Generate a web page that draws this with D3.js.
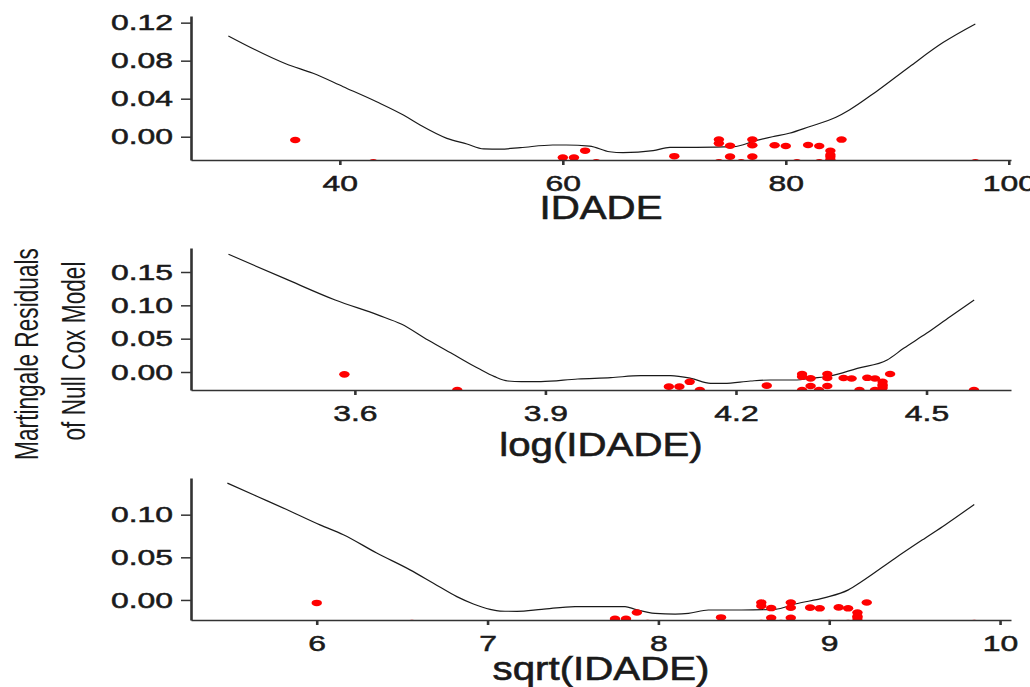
<!DOCTYPE html>
<html>
<head>
<meta charset="utf-8">
<script src="https://cdn.jsdelivr.net/npm/d3@7"></script>
<style>
  body { margin: 0; background: #fff; }
  svg { display: block; font-family: "Liberation Sans", Arial, sans-serif; }
</style>
</head>
<body>
<div id="chart"></div>
<script>
// observed ages (IDADE) and martingale residuals of the null Cox model
var ages = [36, 43, 60, 61, 62, 63, 70, 74, 74, 74, 75, 75, 76, 77, 77, 77,
            79, 80, 81, 82, 83, 83, 84, 84, 84, 84, 85, 97];
var residuals = [-0.0035, -0.027, -0.022, -0.022, -0.0147, -0.027, -0.0205, -0.003, -0.007, -0.027,
                 -0.0095, -0.021, -0.027, -0.003, -0.009, -0.021,
                 -0.009, -0.0098, -0.027, -0.0087, -0.0098, -0.027,
                 -0.0148, -0.019, -0.021, -0.024, -0.003, -0.027];

// smoothed curves
var curveAgeX = [30, 35.2, 37.6, 40.3, 43.3, 45.7, 47.2, 49.6, 51.4, 52.9, 54.4, 56.2, 59.1, 60.3, 62.4,
                 64.2, 65.4, 68.1, 69.6, 72.0, 75.3, 77.3, 78.8, 80.3, 82.1, 84.5, 85.7, 88.1, 91.1, 94.1, 97];
var curveAgeY = [0.106, 0.0765, 0.0667, 0.0526, 0.0368, 0.0228, 0.0123, -0.0017, -0.0077, -0.0128, -0.013,
                 -0.0115, -0.0087, -0.0087, -0.0098, -0.0158, -0.0168, -0.0147, -0.0112, -0.0112, -0.0105,
                 -0.0042, 0.0, 0.0036, 0.0105, 0.0204, 0.0281, 0.0474, 0.0737, 0.099, 0.1186];

var curveLogX = [3.401, 3.490, 3.569, 3.637, 3.673, 3.715, 3.757, 3.794, 3.820, 3.841, 3.862, 3.893, 3.951,
                 4.003, 4.050, 4.097, 4.129, 4.160, 4.181, 4.223, 4.254, 4.296, 4.317, 4.349, 4.391, 4.438,
                 4.464, 4.5, 4.537, 4.575];
var curveLogY = [0.1766, 0.140, 0.108, 0.0853, 0.0719, 0.0479, 0.0254, 0.0055, -0.007, -0.0135, -0.0145,
                 -0.0145, -0.0105, -0.0085, -0.0055, -0.0055, -0.0095, -0.017, -0.017, -0.0135, -0.012,
                 -0.012, -0.0095, -0.006, 0.0055, 0.018, 0.0355, 0.058, 0.083, 0.108];

var curveSqrtX = [5.477, 5.649, 5.824, 6.019, 6.156, 6.351, 6.546, 6.683, 6.820, 6.917, 7.015, 7.073, 7.171,
                  7.317, 7.512, 7.805, 7.864, 7.981, 8.098, 8.176, 8.293, 8.488, 8.683, 8.800, 8.976, 9.112,
                  9.190, 9.386, 9.561, 9.678, 9.849];
var curveSqrtY = [0.137, 0.1216, 0.106, 0.088, 0.0765, 0.055, 0.0353, 0.0196, 0.0039, -0.0047, -0.011, -0.013,
                  -0.0133, -0.011, -0.0078, -0.0078, -0.011, -0.0157, -0.0165, -0.0157, -0.0118, -0.0118,
                  -0.011, -0.0047, 0.0027, 0.0118, 0.0216, 0.049, 0.0725, 0.088, 0.112];

// tick labels
var ageTicks = [40, 60, 80, 100];
var logTicks = [3.6, 3.9, 4.2, 4.5];
var sqrtTicks = [6, 7, 8, 9, 10];
var ageYTicks = [0, 0.04, 0.08, 0.12];
var logYTicks = [0, 0.05, 0.10, 0.15];
var sqrtYTicks = [0, 0.05, 0.10];

var width = 1030, height = 687;
var left = 191, right = 1011;
var sx = 1.45;   // the picture is stretched sideways

var panels = [
    { name: "age", title: "IDADE", f: function(a) { return a; },
      cx: curveAgeX, cy: curveAgeY, xTicks: ageTicks, yTicks: ageYTicks,
      xDomain: [26.65, 100.2], yDomain: [-0.0245, 0.127], top: 16, bottom: 160,
      xFmt: d3.format("d"), yFmt: d3.format(".2f"), titleY: 219 },
    { name: "log", title: "log(IDADE)", f: Math.log,
      cx: curveLogX, cy: curveLogY, xTicks: logTicks, yTicks: logYTicks,
      xDomain: [3.342, 4.633], yDomain: [-0.027, 0.186], top: 248, bottom: 390,
      xFmt: d3.format(".1f"), yFmt: d3.format(".2f"), titleY: 456 },
    { name: "sqrt", title: "sqrt(IDADE)", f: Math.sqrt,
      cx: curveSqrtX, cy: curveSqrtY, xTicks: sqrtTicks, yTicks: sqrtYTicks,
      xDomain: [5.264, 10.064], yDomain: [-0.0235, 0.143], top: 478, bottom: 620,
      xFmt: d3.format("d"), yFmt: d3.format(".2f"), titleY: 680 }
];

var svg = d3.select("#chart").append("svg")
    .attr("width", width)
    .attr("height", height);

svg.append("rect").attr("width", width).attr("height", height).attr("fill", "#fff");

var defs = svg.append("defs");

panels.forEach(function(p) {
    var x = d3.scaleLinear().domain(p.xDomain).range([left, right]);
    var y = d3.scaleLinear().domain(p.yDomain).range([p.bottom, p.top]);

    defs.append("clipPath").attr("id", "clip-" + p.name)
        .append("rect")
        .attr("x", left).attr("y", p.top)
        .attr("width", right - left).attr("height", p.bottom - p.top);

    var g = svg.append("g").attr("clip-path", "url(#clip-" + p.name + ")");

    var line = d3.line()
        .x(function(d, i) { return x(p.cx[i]); })
        .y(function(d, i) { return y(p.cy[i]); })
        .curve(d3.curveMonotoneX);

    g.append("path")
        .datum(p.cx)
        .attr("fill", "none")
        .attr("stroke", "#1a1a1a")
        .attr("stroke-width", 1.2)
        .attr("d", line);

    g.selectAll(".dot")
        .data(ages)
        .enter().append("ellipse")
        .attr("class", "dot")
        .attr("cx", function(d) { return x(p.f(d)); })
        .attr("cy", function(d, i) { return y(residuals[i]); })
        .attr("rx", 5.2)
        .attr("ry", 3.3)
        .attr("fill", "#ff0000");

    // y axis
    var yAxis = svg.append("g")
        .attr("transform", "translate(" + left + ",0)")
        .call(d3.axisLeft(y).tickValues(p.yTicks).tickFormat(p.yFmt).tickSize(10).tickSizeOuter(0));
    yAxis.select(".domain").attr("stroke", "#333").attr("stroke-width", 2.6);
    yAxis.selectAll(".tick line").attr("stroke", "#333").attr("stroke-width", 1.5);
    yAxis.selectAll(".tick text")
        .attr("x", -18 / sx)
        .attr("transform", "scale(" + sx + ",1)")
        .attr("fill", "#1a1a1a")
        .attr("stroke", "#1a1a1a")
        .attr("stroke-width", 0.5)
        .style("font-size", "22px");

    // x axis
    var xAxis = svg.append("g")
        .attr("transform", "translate(0," + p.bottom + ")")
        .call(d3.axisBottom(x).tickValues(p.xTicks).tickFormat(p.xFmt).tickSize(5).tickPadding(10).tickSizeOuter(0));
    xAxis.select(".domain").attr("stroke", "#333").attr("stroke-width", 1.6);
    xAxis.selectAll(".tick line").attr("stroke", "#333").attr("stroke-width", 2.6);
    xAxis.selectAll(".tick text")
        .attr("transform", "scale(" + sx + ",1)")
        .attr("fill", "#1a1a1a")
        .attr("stroke", "#1a1a1a")
        .attr("stroke-width", 0.5)
        .style("font-size", "22px");

    svg.append("text")
        .attr("transform", "translate(" + ((left + right) / 2) + "," + p.titleY + ") scale(1.22,1)")
        .attr("text-anchor", "middle")
        .attr("fill", "#1a1a1a")
        .attr("stroke", "#1a1a1a")
        .attr("stroke-width", 0.6)
        .style("font-size", "33px")
        .text(p.title);
});

// shared y label
var yLabel = ["Martingale Residuals", "of Null Cox Model"];
var yLabelPos = [[37.7, 354], [85, 351]];
yLabel.forEach(function(t, i) {
    svg.append("text")
        .attr("transform", "translate(" + yLabelPos[i][0] + "," + yLabelPos[i][1] + ") scale(1.5,1) rotate(-90)")
        .attr("text-anchor", "middle")
        .attr("fill", "#1a1a1a")
        .style("font-size", "22.7px")
        .text(t);
});
</script>
</body>
</html>
